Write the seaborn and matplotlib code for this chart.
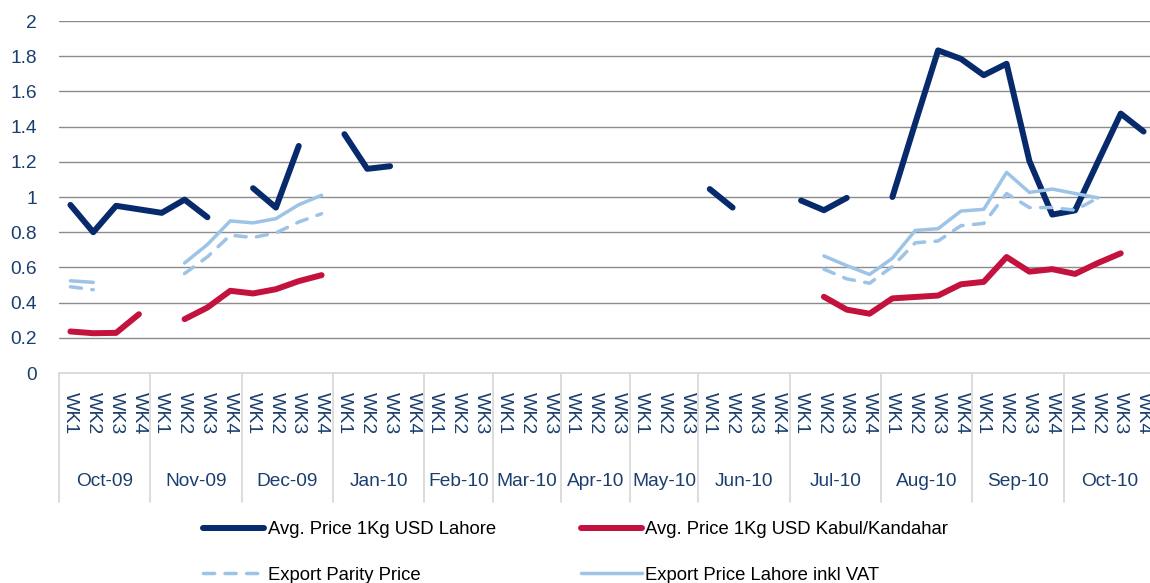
import numpy as np
import pandas as pd
import matplotlib
matplotlib.use("Agg")
import matplotlib.pyplot as plt
import seaborn as sns

nan = np.nan

# ---------------------------------------------------------------
# Datos: precios semanales (USD / kg), oct-09 a oct-10
# ---------------------------------------------------------------
months = ["Oct-09", "Nov-09", "Dec-09", "Jan-10", "Feb-10", "Mar-10", "Apr-10",
          "May-10", "Jun-10", "Jul-10", "Aug-10", "Sep-10", "Oct-10"]
weeks_per_month = [4, 4, 4, 4, 3, 3, 3, 3, 4, 4, 4, 4, 4]

lahore = [0.955, 0.80, 0.95, 0.93, 0.91, 0.985, 0.885, nan,
          1.05, 0.94, 1.29, nan,
          1.357, 1.16, 1.175, nan,
          nan, nan, nan, nan, nan, nan, nan, nan, nan, nan, nan, nan,
          1.045, 0.94, nan, nan,
          0.98, 0.925, 0.995, nan,
          1.0, 1.42, 1.833, 1.785, 1.692, 1.757, 1.204, 0.90,
          0.924, 1.20, 1.474, 1.372]

kabul = [0.236, 0.226, 0.228, 0.334, nan, 0.306, 0.372, 0.467,
         0.452, 0.476, 0.522, 0.556,
         nan, nan, nan, nan,
         nan, nan, nan, nan, nan, nan, nan, nan, nan, nan, nan, nan,
         nan, nan, nan, nan,
         nan, 0.433, 0.36, 0.337,
         0.424, 0.432, 0.44, 0.504, 0.518, 0.659, 0.576, 0.59,
         0.563, 0.625, 0.68, nan]

parity = [0.49, 0.473, nan, nan, nan, 0.565, 0.66, 0.783,
          0.77, 0.796, 0.858, 0.905,
          nan, nan, nan, nan,
          nan, nan, nan, nan, nan, nan, nan, nan, nan, nan, nan, nan,
          nan, nan, nan, nan,
          nan, 0.59, 0.535, 0.51,
          0.605, 0.74, 0.75, 0.837, 0.85, 1.02, 0.94, 0.94,
          0.925, 0.995, nan, nan]

export_vat = [0.524, 0.515, nan, nan, nan, 0.625, 0.73, 0.864,
              0.853, 0.877, 0.956, 1.01,
              nan, nan, nan, nan,
              nan, nan, nan, nan, nan, nan, nan, nan, nan, nan, nan, nan,
              nan, nan, nan, nan,
              nan, 0.665, 0.61, 0.56,
              0.652, 0.81, 0.82, 0.92, 0.93, 1.14, 1.026, 1.045,
              1.02, 0.995, nan, nan]

week_labels = [f"WK{w}" for n in weeks_per_month for w in range(1, n + 1)]
pos = np.arange(len(week_labels))

sns.set_style("white")
plt.rcParams["font.family"] = ["Liberation Sans", "DejaVu Sans"]

text_col = "#1a3f6f"
navy = "#062a6b"
red = "#c3123d"
light = "#9dc3e6"

fig = plt.figure(figsize=(11.5, 5.83), dpi=100)
ax = fig.add_axes([59 / 1150, 210 / 583, 1096 / 1150, 352 / 583])


def draw(values, label, color, lw, ls="-"):
    # cada tramo continuo es una "unidad" para que los huecos no se unan
    s = pd.Series(values, dtype=float)
    d = pd.DataFrame({"x": pos, "y": s.values, "seg": s.isna().cumsum().values}).dropna()
    sns.lineplot(data=d, x="x", y="y", units="seg", estimator=None, color=color,
                 lw=lw, linestyle=ls, label=label, ax=ax, legend=False,
                 solid_capstyle="round", dash_capstyle="round")


draw(lahore, "Avg. Price 1Kg USD Lahore", navy, 4.3)
draw(kabul, "Avg. Price 1Kg USD Kabul/Kandahar", red, 4.3)
draw(parity, "Export Parity Price", light, 2.5, (0, (3.2, 3.0)))
draw(export_vat, "Export Price Lahore inkl VAT", light, 2.5)

ax.set_xlim(-0.5, len(pos) - 0.5)
ax.set_ylim(0, 2)
yt = np.round(np.arange(0, 2.01, 0.2), 1)
ax.set_yticks(yt, [f"{v:g}" for v in yt])
ax.yaxis.grid(True, color="#8c8c8c", lw=1.0)
ax.set_axisbelow(True)
ax.set_xlabel("")
ax.set_ylabel("")

for sp in ["left", "top", "right"]:
    ax.spines[sp].set_visible(False)
ax.spines["bottom"].set_color("#d9d9d9")
ax.spines["bottom"].set_linewidth(1.3)
ax.spines["bottom"].set_zorder(3)

ax.set_xticks(pos, week_labels, rotation=-90)
ax.tick_params(axis="x", length=0, pad=14, labelsize=14, labelcolor=text_col)
ax.tick_params(axis="y", length=0, pad=16, labelsize=13.8, labelcolor=text_col)

# etiquetas de mes y separadores
edges = np.concatenate([[0], np.cumsum(weeks_per_month)]) - 0.5
trans = ax.get_xaxis_transform()
for b in edges:
    ax.plot([b, b], [0, -0.366], transform=trans, color="#d9d9d9", lw=1.3, clip_on=False)
for m, a, b in zip(months, edges[:-1], edges[1:]):
    ax.text((a + b) / 2, -0.307, m, transform=trans, ha="center", va="center",
            fontsize=13.8, color=text_col)

handles, labels = ax.get_legend_handles_labels()
uniq = dict(zip(labels, handles))
order = ["Avg. Price 1Kg USD Lahore", "Export Parity Price",
         "Avg. Price 1Kg USD Kabul/Kandahar", "Export Price Lahore inkl VAT"]
fig.legend([uniq[k] for k in order], order, ncol=2, loc="upper left",
           bbox_to_anchor=(203 / 1150, 1 - 521 / 583), frameon=False,
           fontsize=13.3, handlelength=3.3, handletextpad=0.2,
           columnspacing=4.6, labelspacing=1.55, borderpad=0, borderaxespad=0,
           labelcolor="black")

fig.savefig("out.png", dpi=100)
